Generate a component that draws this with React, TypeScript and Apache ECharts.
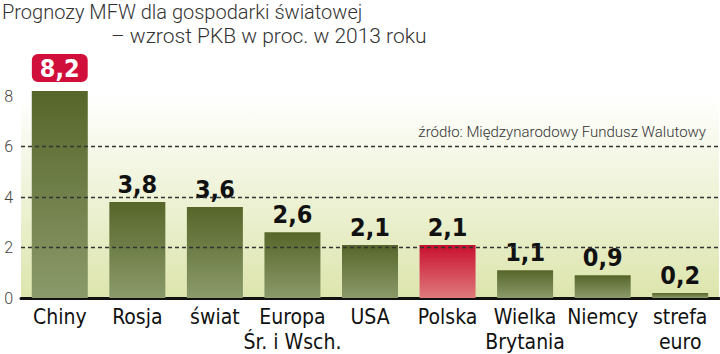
import React, { useEffect, useRef } from "react";
import * as echarts from "echarts";

const categories = ["Chiny", "Rosja", "świat", "Europa\nŚr. i Wsch.", "USA", "Polska", "Wielka\nBrytania", "Niemcy", "strefa\neuro"];
const values = [8.2, 3.8, 3.6, 2.6, 2.1, 2.1, 1.1, 0.9, 0.2];
const highlightIndex = 5;
const boxedIndex = 0;
const gridValues = [2, 4, 6];
const shortGridValue = 8;
const titleLine1 = "Prognozy MFW dla gospodarki światowej";
const titleLine2 = "– wzrost PKB w proc. w 2013 roku";
const sourceText = "źródło: Międzynarodowy Fundusz Walutowy";

const NARROW = '"Liberation Sans Narrow", "DejaVu Sans Condensed", "Roboto Condensed", sans-serif';
const LIGHT = 'Roboto, "Open Sans", sans-serif';

const olive = new echarts.graphic.LinearGradient(0, 0, 0, 1, [
  { offset: 0, color: "#56662a" },
  { offset: 1, color: "#8b9a6a" },
]);
const red = new echarts.graphic.LinearGradient(0, 0, 0, 1, [
  { offset: 0, color: "#c8102e" },
  { offset: 1, color: "#e07a7c" },
]);

export default function App() {
  const ref = useRef<HTMLDivElement>(null);
  useEffect(() => {
    if (!ref.current) return;
    const chart = echarts.init(ref.current, undefined, { renderer: "svg" });
    const data = values.map((v, i) => {
      const item: any = {
        value: v,
        itemStyle: { color: i === highlightIndex ? red : olive },
      };
      if (i === boxedIndex) {
        item.label = {
          color: "#fff",
          backgroundColor: "#d0103a",
          borderRadius: 6,
          padding: [2, 8, 1, 8],
          distance: 9,
        };
      }
      return item;
    });
    chart.setOption({
      animation: false,
      grid: {
        left: 21,
        right: 1,
        top: 96,
        bottom: 53,
        show: true,
        borderWidth: 0,
        backgroundColor: new echarts.graphic.LinearGradient(0, 0, 0, 1, [
          { offset: 0, color: "#ffffff" },
          { offset: 1, color: "#dde5ad" },
        ]),
      },
      xAxis: {
        type: "category",
        data: categories,
        axisLine: { show: true, lineStyle: { color: "#111", width: 3 } },
        axisTick: { show: false },
        axisLabel: {
          color: "#111",
          fontFamily: NARROW,
          fontSize: 21,
          lineHeight: 25,
          margin: 6,
          interval: 0,
        },
      },
      yAxis: {
        type: "value",
        min: 0,
        max: 8,
        interval: 2,
        axisLine: { show: false },
        axisTick: { show: false },
        splitLine: { show: false },
        axisLabel: {
          color: "#444",
          fontFamily: LIGHT,
          fontWeight: 300,
          fontSize: 16,
          margin: 8,
        },
      },
      graphic: [
        {
          type: "text",
          left: 2,
          top: 2,
          style: { text: titleLine1, font: `300 20px ${LIGHT}`, fill: "#333" },
        },
        {
          type: "text",
          left: 111,
          top: 25,
          style: { text: titleLine2, font: `300 21px ${LIGHT}`, fill: "#333" },
        },
        {
          type: "text",
          right: 14,
          top: 124,
          style: { text: sourceText, font: `300 15px ${LIGHT}`, fill: "#333" },
        },
      ],
      series: [
        {
          type: "bar",
          data,
          barWidth: 56,
          clip: false,
          label: {
            show: true,
            position: "top",
            distance: 5,
            color: "#111",
            fontFamily: NARROW,
            fontWeight: "bold",
            fontSize: 25,
            formatter: (p: any) => String(p.value).replace(".", ","),
          },
          markLine: {
            silent: true,
            symbol: "none",
            label: { show: false },
            lineStyle: { color: "#333", type: [4, 3], width: 1.3 },
            data: [
              ...gridValues.map((g) => ({ yAxis: g })),
              [
                { coord: [-0.52, shortGridValue] },
                { coord: [0.52, shortGridValue] },
              ],
            ],
          },
        },
      ],
    });
    return () => chart.dispose();
  }, []);
  return (
    <div
      ref={ref}
      style={{ position: "absolute", left: 0, top: 0, width: 720, height: 354 }}
    />
  );
}
